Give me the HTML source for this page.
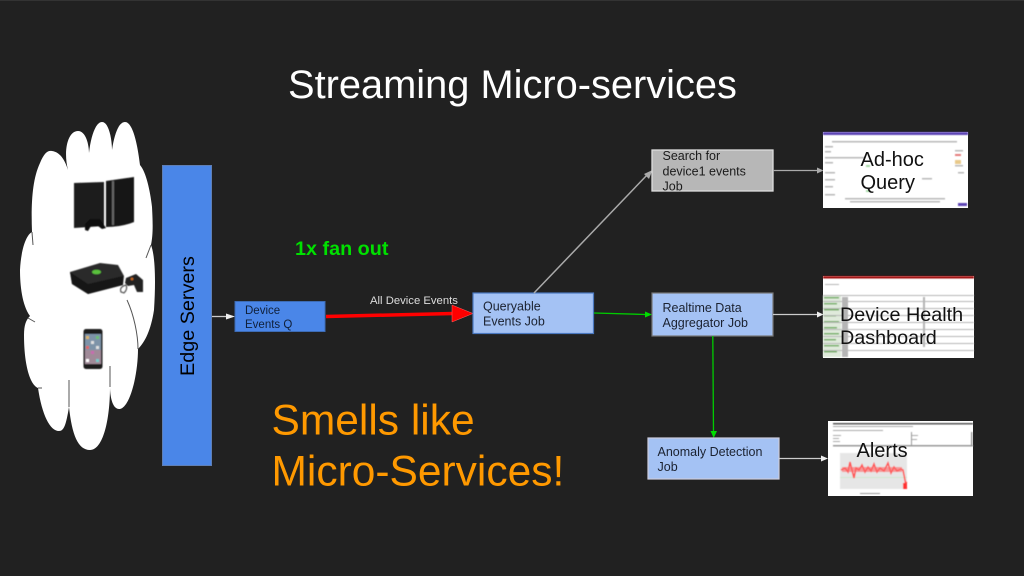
<!DOCTYPE html>
<html><head><meta charset="utf-8"><style>
html,body{margin:0;padding:0;background:#212121}
svg{display:block;font-family:"Liberation Sans",sans-serif}
</style></head><body>
<svg width="1024" height="576" viewBox="0 0 1024 576" xmlns="http://www.w3.org/2000/svg">
<defs><filter id="b" x="-5%" y="-5%" width="110%" height="110%"><feGaussianBlur stdDeviation="0.5"/></filter></defs>
<rect width="1024" height="576" fill="#212121"/>
<rect width="1024" height="1" fill="#333"/>
<text x="512.500" y="98" font-size="39.800" fill="#fff" text-anchor="middle">Streaming Micro-services</text>

<!-- cloud -->
<path d="M32 232 C31 205 32 180 40 163 C44 153 48 150 52 151 C60 152 65 160 68 170 C63 150 68 131 78 131 C86 131 89 145 89 153 C91 135 96 122 102 122 C109 122 112 140 112 150 C115 130 120 122 125 122 C132 122 137 140 140 165 C146 172 150 190 152 207 C153 225 153 235 151 245 C155 255 156 280 154 310 C151 330 145 342 138 349 C138 375 130 407 120 409 C112 410 110 395 110 387 C110 420 103 450 90 450 C78 450 72 435 69 407 C66 425 64 431 59 431 C50 431 42 415 38 388 C30 385 24 365 24 335 C24 325 26 320 30 316 C22 305 20 285 20 270 C21 250 26 235 32 232Z" fill="#fff"/>
<path d="M32 232 L33 245 M146 258 L151 245 M28 318 L35 322 M38 388 L42 388 M69 407 L69 380 M110 387 L110 366 M127 300 C134 315 138 335 138 349" fill="none" stroke="#555" stroke-width="1"/>

<g filter="url(#b)">
<!-- PS3 -->
<path d="M74 183 L104 182 L104 226 L74 228Z" fill="#1d1d1d"/>
<path d="M106 181 L134 177 L134 222 Q122 227 106 227Z" fill="#181818"/>
<rect x="112" y="181" width="2" height="44" fill="#666"/>
<path d="M85 224 L90 219 L100 219 L106 228 L102 229 L98 226 L91 226 L88 231 L85 230Z" fill="#0c0c0c"/>
<!-- Xbox -->
<path d="M70 272 L100 263 L118 265 L124 276 L123 285 L88 294 L72 284Z" fill="#2b2b2b"/>
<path d="M88 284 L123 276 L123 285 L88 294 L72 284 L70 272Z" fill="#161616"/>
<ellipse cx="96.500" cy="272" rx="4.500" ry="2.300" fill="#5ac13c"/>
<path d="M126 278 L136 274 L143 280 L143 292 L137 292 L134 285 L128 286 L125 283Z" fill="#222"/>
<circle cx="132" cy="279" r="1.400" fill="#c5651f"/>
<path d="M121 292 Q119 287 126 285 Q128 289 124 293Z" fill="none" stroke="#555" stroke-width="1.200"/>
<!-- iPhone -->
<rect x="83.500" y="329" width="19" height="40" rx="2.500" fill="#1d1d1d"/>
<rect x="85" y="334" width="16" height="30" fill="#7d93a8"/>
<rect x="85" y="350" width="16" height="14" fill="#a08a98"/>
<g fill="#d9b46a"><rect x="86" y="336" width="3" height="3"/><rect x="91" y="341" width="3" height="3" fill="#e0e0e0"/><rect x="96" y="336" width="3" height="3" fill="#6cbf72"/><rect x="86" y="346" width="3" height="3" fill="#d66"/><rect x="96" y="346" width="3" height="3" fill="#e0e0e0"/><rect x="91" y="351" width="3" height="3" fill="#c86bb0"/><rect x="86" y="359" width="3" height="3" fill="#fff"/><rect x="96" y="359" width="3" height="3" fill="#7cc"/></g>
</g>

<!-- Edge servers -->
<rect x="162.500" y="165.500" width="49" height="300" fill="#4a86e8" stroke="#5f7fb5" stroke-width="1"/>
<text transform="translate(194,376) rotate(-90)" font-size="19.800" fill="#000">Edge Servers</text>

<!-- edge to Q -->
<line x1="212" y1="316.500" x2="226" y2="316.500" stroke="#ccc" stroke-width="1.300"/>
<path d="M235 316.500 L226 313.500 L226 319.500Z" fill="#eee"/>

<!-- Device events Q -->
<rect x="235" y="301.500" width="90" height="30" fill="#4a86e8" stroke="#3d6cb5" stroke-width="1"/>
<text font-size="11.500" fill="#10203a"><tspan x="245" y="314">Device</tspan><tspan x="245" y="328">Events Q</tspan></text>

<!-- red arrow -->
<line x1="326" y1="316.500" x2="453" y2="313.500" stroke="#f00" stroke-width="3.500"/>
<path d="M473 313.500 L452 305 L452 322Z" fill="#f00" stroke="#f66" stroke-width=".5"/>
<text x="370" y="304" font-size="11.300" fill="#ddd">All Device Events</text>

<!-- Queryable -->
<rect x="473" y="293" width="120.500" height="40.500" fill="#a4c2f4" stroke="#4a78c0" stroke-width="1.200"/>
<text font-size="12.500" fill="#1b2230"><tspan x="483" y="310.500">Queryable</tspan><tspan x="483" y="325.500">Events Job</tspan></text>

<!-- to search -->
<line x1="534" y1="293" x2="648" y2="174" stroke="#aaa" stroke-width="1.500"/>
<path d="M652.500 170 L644 174 L649 179Z" fill="#aaa"/>
<!-- Search -->
<rect x="652" y="150" width="121" height="41" fill="#b7b7b7" stroke="#ddd" stroke-width="1.300"/>
<text font-size="12.500" fill="#1b1b1b"><tspan x="662.500" y="160">Search for</tspan><tspan x="662.500" y="175.500">device1 events</tspan><tspan x="662.500" y="190.500">Job</tspan></text>
<line x1="773" y1="170.500" x2="818" y2="170.500" stroke="#aaa" stroke-width="1.300"/>
<path d="M823.500 170.500 L817 167.500 L817 173.500Z" fill="#aaa"/>

<!-- green queryable to realtime -->
<line x1="594" y1="313" x2="646" y2="314.500" stroke="#0c0" stroke-width="1.300"/>
<path d="M652 314.500 L645 311.500 L645 317.500Z" fill="#0d0"/>
<!-- Realtime -->
<rect x="652" y="293" width="121" height="43" fill="#a4c2f4" stroke="#777" stroke-width="1.200"/>
<text font-size="12.500" fill="#1b2230"><tspan x="662.500" y="312">Realtime Data</tspan><tspan x="662.500" y="327">Aggregator Job</tspan></text>
<line x1="773" y1="314.500" x2="818" y2="314.500" stroke="#ccc" stroke-width="1.300"/>
<path d="M823.500 314.500 L817 311.500 L817 317.500Z" fill="#eee"/>

<!-- green down -->
<line x1="712.800" y1="336" x2="713.500" y2="432" stroke="#0c0" stroke-width="1.300"/>
<path d="M713.700 438 L710.500 431 L717 431Z" fill="#0d0"/>
<!-- Anomaly -->
<rect x="648" y="438" width="131" height="41" fill="#a4c2f4" stroke="#ccd" stroke-width="1.200"/>
<text font-size="12.500" fill="#1b2230"><tspan x="657.500" y="456">Anomaly Detection</tspan><tspan x="657.500" y="471">Job</tspan></text>
<line x1="779" y1="458.500" x2="822" y2="458.500" stroke="#ccc" stroke-width="1.300"/>
<path d="M828 458.500 L821 455.500 L821 461.500Z" fill="#eee"/>

<text x="295" y="255" font-size="19.800" font-weight="bold" fill="#00e000">1x fan out</text>
<text font-size="42.500" fill="#ff9900"><tspan x="271.500" y="434.500">Smells like</tspan><tspan x="271.500" y="485.500">Micro-Services!</tspan></text>

<!-- Ad-hoc screenshot -->
<rect x="823" y="132" width="145" height="76" fill="#fff"/>
<g filter="url(#b)">
<rect x="823" y="132" width="145" height="3" fill="#5d45b5"/>
<g fill="#b8b8b8">
<rect x="832" y="141" width="125" height="1.500"/>
<rect x="825" y="146" width="8" height="1.500"/><rect x="825" y="151" width="6" height="1.500"/>
<rect x="825" y="157" width="40" height="1.500"/><rect x="825" y="162" width="8" height="1.500"/>
<rect x="825" y="172" width="10" height="1.500"/><rect x="825" y="179" width="10" height="1.500"/>
<rect x="825" y="186" width="8" height="1.500"/><rect x="825" y="194" width="10" height="1.500"/>
<rect x="845" y="198" width="100" height="1.500"/><rect x="850" y="201" width="90" height="1.500"/>
<rect x="955" y="150" width="8" height="1.500"/><rect x="955" y="165" width="8" height="1.500"/>
<rect x="958" y="172" width="6" height="1.500"/><rect x="922" y="178" width="10" height="1.500"/>
</g>
<rect x="866" y="165" width="4" height="2" fill="#a6d9a6"/><rect x="866" y="190" width="4" height="2" fill="#a6d9a6"/>
<rect x="955" y="154" width="6" height="2" fill="#e57a7a"/><rect x="955" y="160" width="6" height="4" fill="#e8c98a"/>
<rect x="958" y="203" width="9" height="3" fill="#5d45b5"/>
</g>
<text font-size="20" fill="#111"><tspan x="860.500" y="166">Ad-hoc</tspan><tspan x="860.500" y="189">Query</tspan></text>

<!-- Device health screenshot -->
<rect x="823" y="276" width="151" height="82" fill="#fff"/>
<g filter="url(#b)">
<rect x="823" y="276" width="151" height="2.500" fill="#a01010"/>
<rect x="823" y="295" width="18" height="62" fill="#dfeadb"/>
<g fill="#6fae5f">
<rect x="824" y="297" width="15" height="1.500"/><rect x="824" y="303" width="13" height="1.500"/><rect x="824" y="309" width="15" height="1.500"/><rect x="824" y="315" width="12" height="1.500"/><rect x="824" y="321" width="15" height="1.500"/><rect x="824" y="327" width="13" height="1.500"/><rect x="824" y="333" width="15" height="1.500"/><rect x="824" y="339" width="12" height="1.500"/><rect x="824" y="345" width="15" height="1.500"/><rect x="824" y="351" width="13" height="1.500"/>
</g>
<g fill="#b5b5b5">
<rect x="823" y="295" width="151" height="1"/><rect x="823" y="301" width="151" height="1"/><rect x="823" y="308" width="151" height="1"/><rect x="823" y="315" width="151" height="1"/><rect x="823" y="322" width="151" height="1"/><rect x="823" y="329" width="151" height="1"/><rect x="823" y="336" width="151" height="1"/><rect x="823" y="343" width="151" height="1"/><rect x="823" y="350" width="151" height="1"/>
<rect x="842" y="297" width="6" height="60"/><rect x="923" y="297" width="2" height="50"/>
<rect x="825" y="284" width="14" height="1"/>
</g>
</g>
<text font-size="19.800" fill="#111"><tspan x="840" y="321">Device Health</tspan><tspan x="840" y="344">Dashboard</tspan></text>

<!-- Alerts screenshot -->
<rect x="828" y="421" width="145" height="75" fill="#fff"/>
<g filter="url(#b)">
<rect x="833" y="423" width="140" height="1.500" fill="#555"/>
<g fill="#aaa">
<rect x="833" y="426" width="80" height="1"/><rect x="833" y="430" width="50" height="1"/>
<rect x="833" y="435" width="8" height="1"/><rect x="833" y="438" width="6" height="1"/><rect x="833" y="441" width="7" height="1"/>
<rect x="912" y="435" width="6" height="1"/><rect x="912" y="439" width="5" height="1"/>
</g>
<rect x="833" y="445" width="140" height="1.500" fill="#999"/>
<rect x="971" y="432" width="1.500" height="14" fill="#999"/>
<rect x="911" y="432" width="1" height="14" fill="#999"/>
<rect x="840" y="453" width="67" height="36" fill="#e6e6e6"/>
<rect x="840" y="477" width="67" height="1" fill="#cfe8cf"/>
<path d="M841 470 L845 468 L848 472 L850 462 L852 470 L854 478 L856 468 L859 470 L862 465 L865 472 L868 467 L871 471 L874 464 L877 472 L880 468 L884 471 L888 463 L891 473 L894 467 L897 471 L901 469 L903 470 L905 480 L906 486 L904 484 L907 482" fill="none" stroke="#f55" stroke-width="1.600"/>
<rect x="842" y="467" width="60" height="5" fill="#f66" opacity=".6"/>
<rect x="903" y="483" width="4" height="6" fill="#f33"/>
<rect x="860" y="493" width="20" height="1" fill="#999"/>
</g>
<text x="856.500" y="457" font-size="20" fill="#111">Alerts</text>
</svg>
</body></html>
